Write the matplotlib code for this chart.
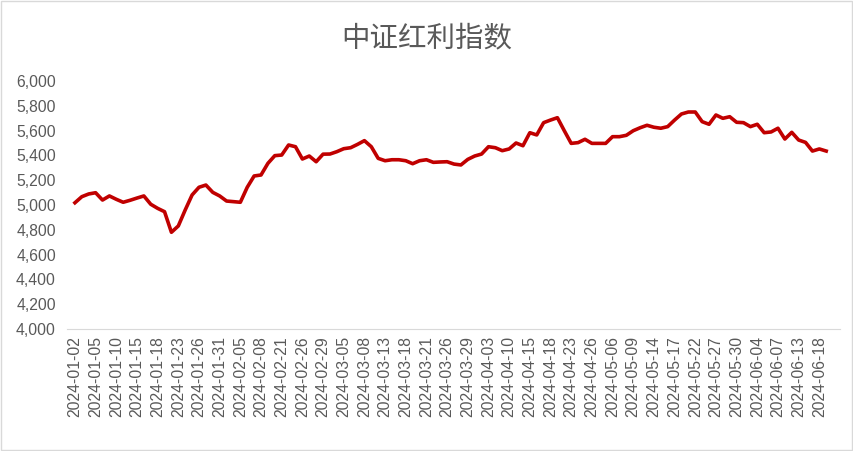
import numpy as np
import matplotlib.pyplot as plt
from matplotlib.patches import Rectangle

# trading days, 2024-01-02 .. 2024-06-19
jan = [2, 3, 4, 5, 8, 9, 10, 11, 12, 15, 16, 17, 18, 19, 22, 23, 24, 25, 26, 29, 30, 31]
feb = [1, 2, 5, 6, 7, 8, 19, 20, 21, 22, 23, 26, 27, 28, 29]
mar = [1, 4, 5, 6, 7, 8, 11, 12, 13, 14, 15, 18, 19, 20, 21, 22, 25, 26, 27, 28, 29]
apr = [1, 2, 3, 8, 9, 10, 11, 12, 15, 16, 17, 18, 19, 22, 23, 24, 25, 26, 29, 30]
may = [6, 7, 8, 9, 10, 13, 14, 15, 16, 17, 20, 21, 22, 23, 24, 27, 28, 29, 30, 31]
jun = [3, 4, 5, 6, 7, 11, 12, 13, 14, 17, 18, 19]

dates = []
for m, days in enumerate([jan, feb, mar, apr, may, jun], start=1):
    dates += ['2024-%02d-%02d' % (m, d) for d in days]

index_vals = [
    5018, 5067, 5089, 5099, 5040, 5073, 5046, 5022, 5038, 5056,
    5073, 5006, 4973, 4946, 4780, 4831, 4960, 5081, 5143, 5161,
    5102, 5073, 5032, 5027, 5022, 5143, 5234, 5242, 5336, 5398,
    5403, 5484, 5470, 5371, 5395, 5349, 5410, 5411, 5430, 5454,
    5462, 5489, 5519, 5470, 5376, 5357, 5365, 5365, 5357, 5333,
    5357, 5365, 5344, 5347, 5349, 5330, 5323, 5368, 5395, 5411,
    5470, 5462, 5438, 5452, 5500, 5478, 5583, 5565, 5664, 5685,
    5704, 5599, 5497, 5503, 5530, 5497, 5497, 5497, 5551, 5551,
    5562, 5599, 5623, 5643, 5627, 5619, 5632, 5685, 5734, 5750,
    5750, 5672, 5651, 5726, 5699, 5712, 5667, 5664, 5632, 5651,
    5583, 5589, 5619, 5532, 5586, 5524, 5505, 5435, 5452, 5435,
]

gray = '#595959'
fig = plt.figure(figsize=(8.54, 4.51), dpi=100)
fig.patches.append(Rectangle((0.001, 0.002), 0.997, 0.995, transform=fig.transFigure,
                             fill=False, edgecolor='#D9D9D9', linewidth=1))

# axes from x=67px to x=840px, y=81px (6000) to y=329px (4000)
ax = fig.add_axes([67 / 854, 122 / 451, 773 / 854, 248 / 451])
x = np.arange(len(dates))
ax.plot(x, index_vals, color='#C00000', linewidth=2.6, solid_joinstyle='round')

ax.set_xlim(-1.15, len(dates) + 1)
ax.set_ylim(4000, 6000)
ax.set_yticks(np.arange(4000, 6001, 200))
ax.set_yticklabels(['{:,}'.format(v) for v in range(4000, 6001, 200)],
                   fontsize=11.3, color=gray, family='Liberation Sans')
ax.set_xticks(x[::3])
ax.set_xticklabels(dates[::3], rotation=90, fontsize=11.3, color=gray,
                   family='Liberation Sans')
ax.tick_params(axis='both', length=0)
ax.tick_params(axis='y', pad=8)
ax.tick_params(axis='x', pad=5)

for s in ['top', 'right', 'left']:
    ax.spines[s].set_visible(False)
ax.spines['bottom'].set_color('#D9D9D9')

fig.text(0.5, 0.915, '中证红利指数', ha='center', va='center', fontsize=20.5,
         color=gray, family=['Noto Sans CJK SC', 'DejaVu Sans'])

fig.savefig('out.png', dpi=100)
